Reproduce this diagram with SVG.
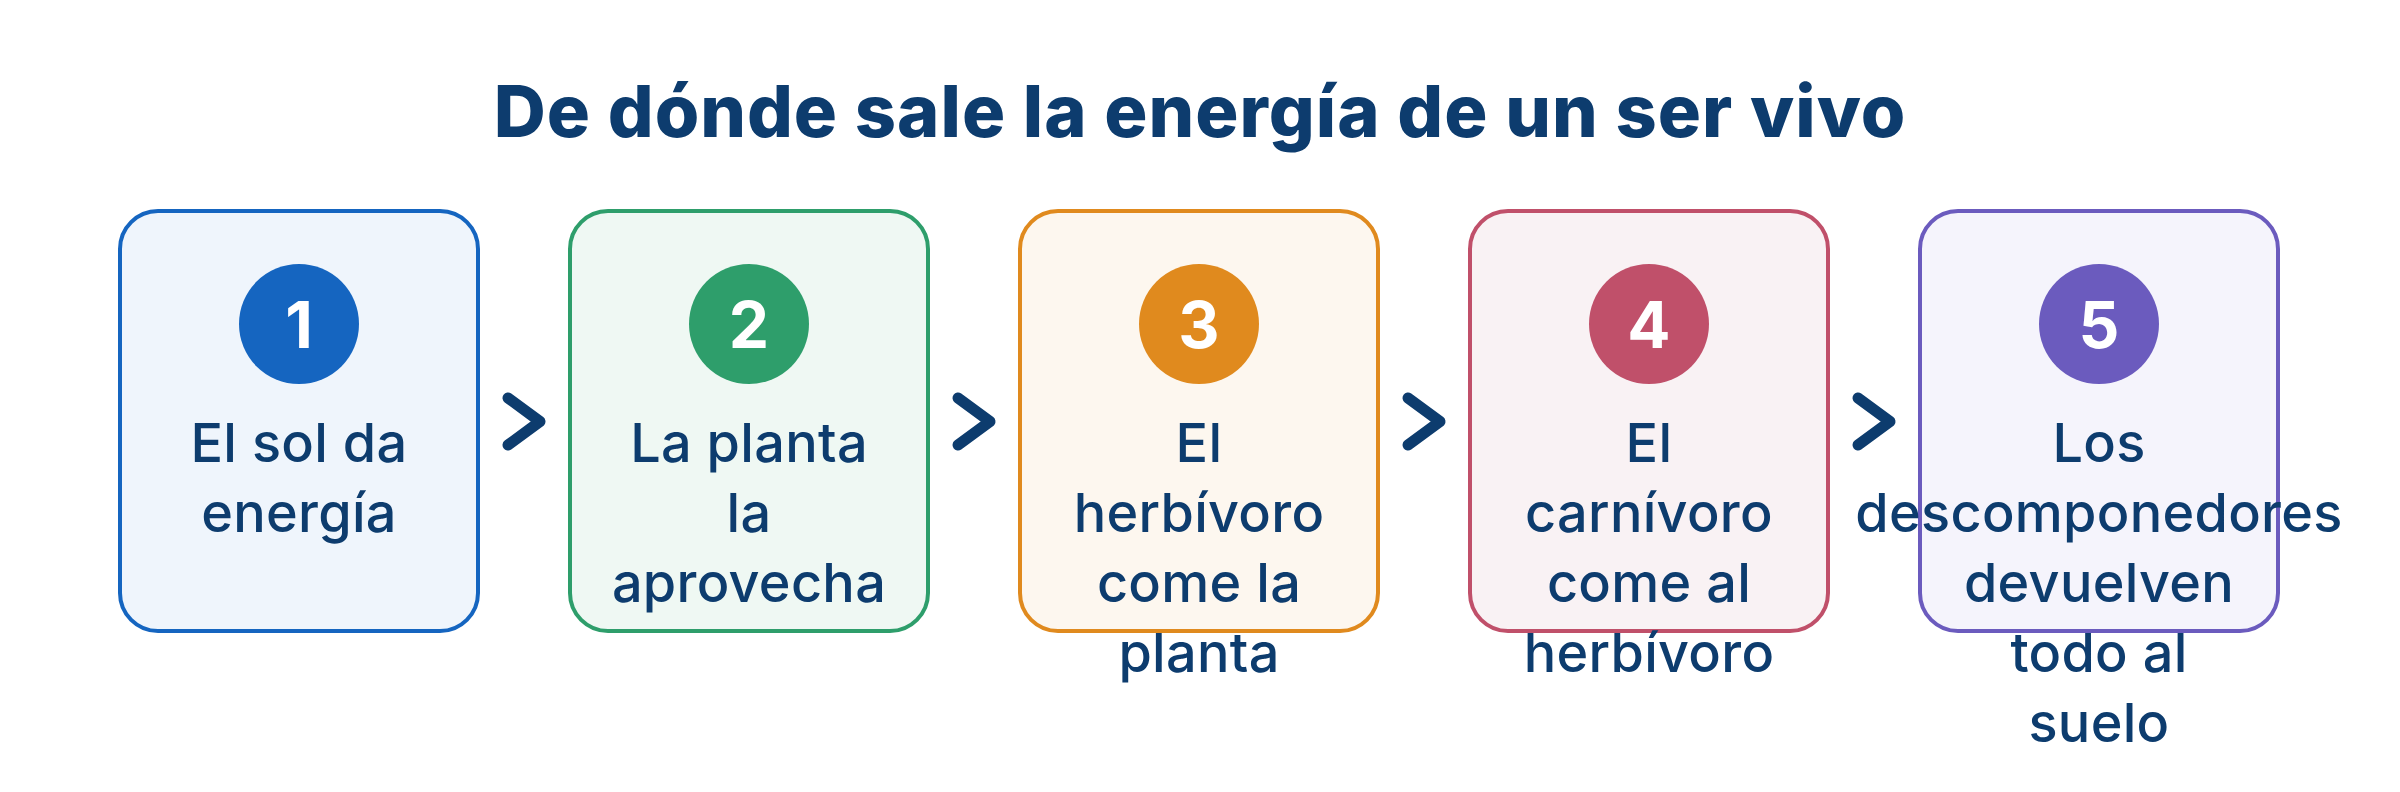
<svg xmlns="http://www.w3.org/2000/svg" width="2400" height="792" viewBox="0 0 2400 792">
<style>
.title{font-family:Inter,"Noto Sans","DejaVu Sans",sans-serif;font-weight:800;font-size:72px;letter-spacing:1px;fill:#0d3c6e;text-anchor:middle}
.box{stroke-width:4}
.num{font-family:Inter,"Noto Sans","DejaVu Sans",sans-serif;font-weight:700;font-size:64px;fill:#ffffff;text-anchor:middle}
.lbl{font-family:Inter,"Noto Sans","DejaVu Sans",sans-serif;font-weight:500;font-size:54px;letter-spacing:0.3px;fill:#0d3c6e;text-anchor:middle}
.chev{fill:none;stroke:#0d3c6e;stroke-width:11;stroke-linecap:round;stroke-linejoin:round}
</style>
<rect width="2400" height="792" fill="#ffffff"/>
<text class="title" x="1200" y="137">De dónde sale la energía de un ser vivo</text>
<g id="connectors">
<path class="chev" d="M508,398 L540,421.5 L508,445"/>
<path class="chev" d="M958,398 L990,421.5 L958,445"/>
<path class="chev" d="M1408,398 L1440,421.5 L1408,445"/>
<path class="chev" d="M1858,398 L1890,421.5 L1858,445"/>
</g>
<g id="node1">
<rect class="box" x="120" y="211" width="358" height="420" rx="38" fill="#eff5fc" stroke="#1565c0"/>
<circle cx="299" cy="324" r="60" fill="#1565c0"/>
<text class="num" x="299" y="348">1</text>
<text class="lbl" x="299" y="462">El sol da</text>
<text class="lbl" x="299" y="532">energía</text>
</g>
<g id="node2">
<rect class="box" x="570" y="211" width="358" height="420" rx="38" fill="#eff8f3" stroke="#2e9e6b"/>
<circle cx="749" cy="324" r="60" fill="#2e9e6b"/>
<text class="num" x="749" y="348">2</text>
<text class="lbl" x="749" y="462">La planta</text>
<text class="lbl" x="749" y="532">la</text>
<text class="lbl" x="749" y="602">aprovecha</text>
</g>
<g id="node3">
<rect class="box" x="1020" y="211" width="358" height="420" rx="38" fill="#fdf7ef" stroke="#e08a1e"/>
<circle cx="1199" cy="324" r="60" fill="#e08a1e"/>
<text class="num" x="1199" y="348">3</text>
<text class="lbl" x="1199" y="462">El</text>
<text class="lbl" x="1199" y="532">herbívoro</text>
<text class="lbl" x="1199" y="602">come la</text>
<text class="lbl" x="1199" y="672">planta</text>
</g>
<g id="node4">
<rect class="box" x="1470" y="211" width="358" height="420" rx="38" fill="#f9f2f4" stroke="#c0506a"/>
<circle cx="1649" cy="324" r="60" fill="#c0506a"/>
<text class="num" x="1649" y="348">4</text>
<text class="lbl" x="1649" y="462">El</text>
<text class="lbl" x="1649" y="532">carnívoro</text>
<text class="lbl" x="1649" y="602">come al</text>
<text class="lbl" x="1649" y="672">herbívoro</text>
</g>
<g id="node5">
<rect class="box" x="1920" y="211" width="358" height="420" rx="38" fill="#f5f4fc" stroke="#6b5bbe"/>
<circle cx="2099" cy="324" r="60" fill="#6b5bbe"/>
<text class="num" x="2099" y="348">5</text>
<text class="lbl" x="2099" y="462">Los</text>
<text class="lbl" x="2099" y="532">descomponedores</text>
<text class="lbl" x="2099" y="602">devuelven</text>
<text class="lbl" x="2099" y="672">todo al</text>
<text class="lbl" x="2099" y="742">suelo</text>
</g>
</svg>
